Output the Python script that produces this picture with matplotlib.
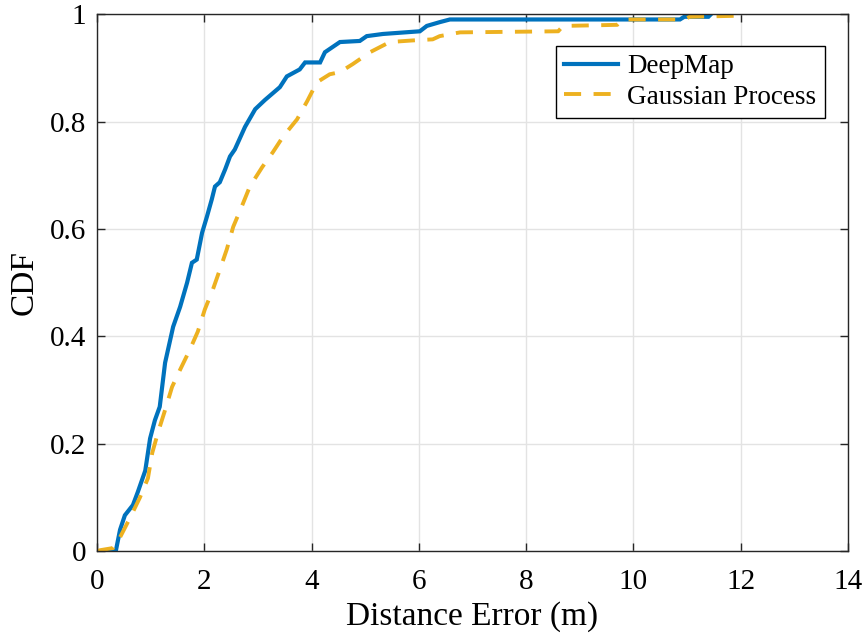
import matplotlib
matplotlib.use("Agg")
import matplotlib.pyplot as plt
from matplotlib.ticker import FixedLocator

plt.rcParams['font.family'] = ['Liberation Serif', 'DejaVu Serif']

# Empirical CDF of localisation error, traced as (error, cumulative fraction) knots
deepmap_x = [0.0, 0.35, 0.43, 0.52, 0.67, 0.76, 0.90, 0.99, 1.08, 1.17, 1.27, 1.42,
             1.55, 1.68, 1.77, 1.86, 1.96, 2.05, 2.14, 2.20, 2.29, 2.39, 2.48, 2.57,
             2.76, 2.95, 3.13, 3.41, 3.54, 3.78, 3.88, 4.16, 4.25, 4.53, 4.90, 5.03,
             5.33, 6.02, 6.15, 6.39, 6.58, 10.87, 10.95, 11.40, 11.45]
deepmap_y = [0.0, 0.0, 0.04, 0.067, 0.086, 0.11, 0.15, 0.21, 0.244, 0.269, 0.351, 0.418,
             0.455, 0.50, 0.537, 0.543, 0.593, 0.623, 0.655, 0.679, 0.687, 0.711, 0.735, 0.748,
             0.79, 0.823, 0.84, 0.864, 0.884, 0.897, 0.910, 0.910, 0.929, 0.948, 0.950, 0.959,
             0.963, 0.968, 0.978, 0.985, 0.990, 0.990, 0.995, 0.995, 1.0]

gp_x = [0.0, 0.06, 0.30, 0.43, 0.62, 0.80, 0.95, 1.03, 1.14, 1.27, 1.40, 1.55, 1.73,
        1.88, 2.01, 2.16, 2.29, 2.42, 2.54, 2.70, 2.85, 3.08, 3.28, 3.47, 3.73, 3.92,
        4.10, 4.34, 4.53, 4.77, 5.09, 5.46, 5.89, 6.26, 6.39, 6.77, 8.60, 8.69, 9.70,
        9.80, 10.95, 11.05, 12.0, 12.1]
gp_y = [0.0, 0.002, 0.006, 0.026, 0.063, 0.10, 0.136, 0.183, 0.222, 0.263, 0.306, 0.338,
        0.375, 0.409, 0.45, 0.487, 0.524, 0.562, 0.604, 0.642, 0.679, 0.715, 0.743, 0.772,
        0.804, 0.838, 0.873, 0.888, 0.892, 0.907, 0.929, 0.948, 0.951, 0.953, 0.959,
        0.966, 0.968, 0.978, 0.980, 0.990, 0.990, 0.995, 0.997, 1.0]

x_ticks = [0, 2, 4, 6, 8, 10, 12, 14]
y_ticks = [0, 0.2, 0.4, 0.6, 0.8, 1.0]
y_tick_labels = ['0', '0.2', '0.4', '0.6', '0.8', '1']

fig = plt.figure(figsize=(8.66, 6.41), dpi=100)
ax = fig.add_axes([0.112, 0.140, 0.867, 0.838])

ax.plot(deepmap_x, deepmap_y, color='#0072BD', lw=3.0, label='DeepMap',
        solid_joinstyle='miter')
ax.plot(gp_x, gp_y, color='#EDB120', lw=2.8, linestyle=(0, (4.4, 3.2)),
        label='Gaussian Process')

ax.set_xlim(0, 14)
ax.set_ylim(0, 1)
ax.xaxis.set_major_locator(FixedLocator(x_ticks))
ax.yaxis.set_major_locator(FixedLocator(y_ticks))
ax.set_yticklabels(y_tick_labels)

ax.grid(True, color='#E3E3E3', lw=1.0)
ax.set_axisbelow(True)
for s in ax.spines.values():
    s.set_color('#262626')
    s.set_linewidth(1.0)
ax.tick_params(direction='in', length=6, width=1.0, colors='#262626',
               labelsize=21, top=True, right=True, labelcolor='black')
ax.tick_params(axis='x', pad=13)
ax.tick_params(axis='y', pad=8)

ax.set_xlabel('Distance Error (m)', fontsize=24, labelpad=4)
ax.set_ylabel('CDF', fontsize=24, labelpad=7)

leg = ax.legend(loc='upper right', bbox_to_anchor=(0.969, 0.940), borderaxespad=0,
                fontsize=19.5, fancybox=False, framealpha=1, edgecolor='black',
                handlelength=2.0, handletextpad=0.33, borderpad=0.3,
                labelspacing=0.2)
leg.get_frame().set_linewidth(1.0)

fig.savefig('out.png', dpi=100)
